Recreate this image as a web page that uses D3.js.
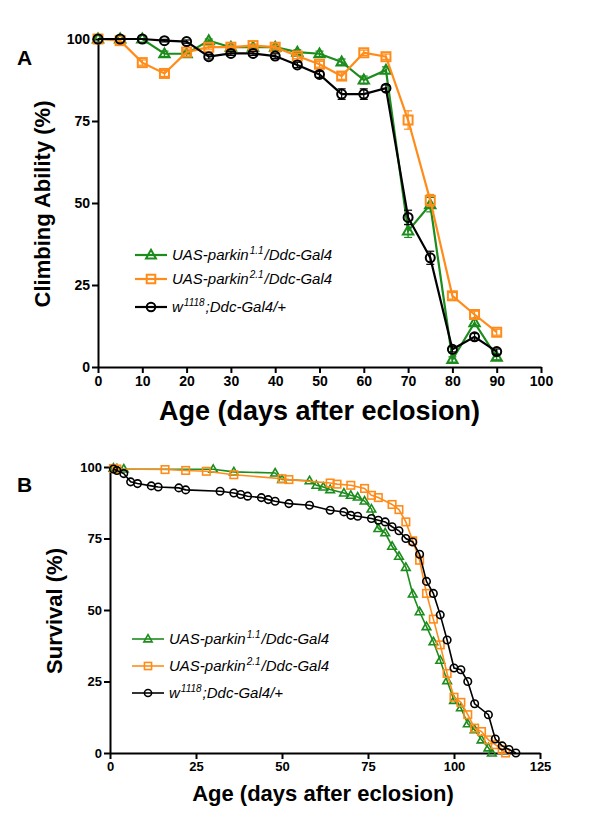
<!DOCTYPE html>
<html>
<head>
<meta charset="utf-8">
<script src="https://cdn.jsdelivr.net/npm/d3@7"></script>
<style>
  body { margin: 0; background: #fff; }
  text { font-family: "Liberation Sans", Arial, sans-serif; }
</style>
</head>
<body>
<svg id="chart" width="600" height="835"></svg>
<script>
// ---- Panel A: climbing ability (mean, SEM) every 5 days
var climbDays = [0, 5, 10, 15, 20, 25, 30, 35, 40, 45, 50, 55, 60, 65, 70, 75, 80, 85, 90];
var climbGreen = [100, 100, 100, 95.5, 95.5, 99.5, 97.5, 97.5, 97.5, 96, 95.5, 93, 87.5, 90.5, 41.5, 49.5, 2.3, 13.5, 3];
var climbOrange = [100, 99.5, 92.8, 89.5, 96, 97.5, 97.5, 98, 97.5, 94.8, 92.3, 88.7, 95.8, 94.6, 75.3, 50.8, 21.7, 16, 10.6];
var climbBlack = [100, 100, 100, 99.5, 99.2, 94.6, 95.6, 95.6, 94.8, 92.1, 89.2, 83.2, 83.2, 85, 45.6, 33.3, 5.4, 9.2, 4.7];
var semGreen = [0, 0, 0, 0.8, 0.8, 0.5, 0.6, 0.6, 0.6, 0.7, 0.8, 0.9, 1.2, 1.0, 2.0, 2.2, 0.8, 1.0, 0.8];
var semOrange = [0, 0.5, 0.8, 0.9, 0.7, 0.6, 0.6, 0.5, 0.6, 0.8, 0.9, 1.0, 0.8, 0.8, 2.8, 1.8, 1.0, 1.0, 0.9];
var semBlack = [0, 0, 0, 0.4, 0.5, 0.7, 0.6, 0.6, 0.7, 0.8, 0.9, 1.6, 1.6, 1.0, 2.2, 2.0, 0.8, 1.0, 0.8];

// ---- Panel B: survival curves
var survDaysGreen = [1, 2, 4, 30, 36, 48, 50, 58, 60, 62, 64, 68, 70, 72, 74, 76, 78, 80, 82, 84, 86, 88, 90, 92, 94, 96, 98, 100, 102, 104, 106, 108, 110, 111];
var survGreen = [99.6, 99.4, 99.3, 99.2, 98.3, 97.9, 95.6, 95.2, 93.6, 93.0, 92.1, 90.9, 90.1, 89.5, 88.1, 85.3, 78.5, 77.0, 72.3, 68.8, 64.9, 55.6, 49.4, 44.2, 38.9, 32.4, 25.3, 18.4, 15.8, 10.2, 8.1, 4.6, 1.8, 0];
var survDaysOrange = [1, 2, 16, 22, 28, 36, 50, 52, 64, 66, 70, 74, 76, 78, 82, 84, 86, 88, 90, 92, 94, 96, 98, 100, 102, 104, 106, 108, 110, 112, 114, 115];
var survOrange = [99.5, 99.3, 99.1, 98.8, 98.5, 97.3, 95.9, 95.6, 94.4, 94.0, 93.6, 92.5, 90.1, 89.3, 86.9, 85.1, 80.8, 74.2, 67.4, 55.8, 46.8, 37.8, 27.8, 19.5, 17.7, 13.4, 8.7, 7.5, 4.6, 2.9, 1.2, 0];
var survDaysBlack = [1, 2, 4, 6, 8, 12, 14, 20, 22, 32, 36, 38, 40, 44, 46, 48, 52, 58, 64, 68, 70, 72, 76, 78, 80, 82, 84, 86, 88, 90, 92, 94, 96, 98, 100, 102, 104, 106, 110, 112, 114, 116, 118];
var survBlack = [99.3, 98.8, 97.7, 94.8, 94.2, 93.4, 93.0, 92.7, 92.0, 91.5, 90.9, 90.4, 89.8, 89.3, 88.6, 88.0, 87.2, 86.6, 84.9, 84.3, 83.1, 82.8, 82.0, 81.4, 80.8, 79.1, 77.7, 75.0, 73.8, 69.5, 60.0, 55.8, 48.3, 39.5, 29.7, 29.1, 25.0, 17.2, 13.4, 4.9, 2.5, 1.2, 0];

var yTicks = [0, 25, 50, 75, 100];
var climbXTicks = [0, 10, 20, 30, 40, 50, 60, 70, 80, 90, 100];
var survXTicks = [0, 25, 50, 75, 100, 125];

var genotypes = [
  { base: "UAS-parkin", sup: "1.1", tail: "/Ddc-Gal4", color: "#1c8c1c", shape: "triangle" },
  { base: "UAS-parkin", sup: "2.1", tail: "/Ddc-Gal4", color: "#ff8c1a", shape: "square" },
  { base: "w", sup: "1118", tail: ";Ddc-Gal4/+", color: "#000000", shape: "circle" }
];

var svg = d3.select("#chart");

// draws one open marker at (cx, cy)
function marker(g, shape, cx, cy, s, color, sw) {
  if (shape === "circle") {
    g.append("circle").attr("cx", cx).attr("cy", cy).attr("r", s / 2)
      .attr("fill", "none").attr("stroke", color).attr("stroke-width", sw);
  } else if (shape === "square") {
    g.append("rect").attr("x", cx - s / 2).attr("y", cy - s / 2)
      .attr("width", s).attr("height", s)
      .attr("fill", "none").attr("stroke", color).attr("stroke-width", sw);
  } else {
    var h = s * Math.sqrt(3) / 2;
    g.append("path")
      .attr("d", "M" + cx + "," + (cy - h * 0.6) + "L" + (cx + s / 2) + "," + (cy + h * 0.4) +
        "L" + (cx - s / 2) + "," + (cy + h * 0.4) + "Z")
      .attr("fill", "none").attr("stroke", color).attr("stroke-width", sw);
  }
}

function drawPanel(p) {
  var g = svg.append("g");

  var x = d3.scaleLinear().domain(p.xDomain).range(p.xRange);
  var y = d3.scaleLinear().domain([0, 100]).range(p.yRange);

  // axes
  var xAxis = d3.axisBottom(x).tickValues(p.xTicks).tickSize(6).tickSizeOuter(0).tickPadding(3);
  var yAxis = d3.axisLeft(y).tickValues(yTicks).tickSize(6).tickSizeOuter(0).tickPadding(2);

  var gx = g.append("g").attr("transform", "translate(0," + p.yRange[0] + ")").call(xAxis);
  var gy = g.append("g").attr("transform", "translate(" + p.xRange[0] + ",0)").call(yAxis);

  [gx, gy].forEach(function(a) {
    a.select(".domain").attr("stroke", "#000").attr("stroke-width", 2);
    a.selectAll(".tick line").attr("stroke", "#000").attr("stroke-width", 2);
    a.selectAll(".tick text")
      .attr("fill", "#000")
      .attr("font-size", p.tickFont)
      .attr("font-weight", "bold")
      .style("font-family", "'Liberation Sans', Arial, sans-serif");
  });

  // series
  p.series.forEach(function(s, i) {
    var gt = genotypes[i];
    var pts = s.xs.map(function(d, j) { return { x: d, y: s.ys[j], e: s.err ? s.err[j] : 0 }; });

    var line = d3.line().x(function(d) { return x(d.x); }).y(function(d) { return y(d.y); });
    g.append("path").datum(pts).attr("d", line)
      .attr("fill", "none").attr("stroke", gt.color).attr("stroke-width", p.lineWidth);

    if (s.err) {
      pts.forEach(function(d) {
        if (d.e <= 0) return;
        var cx = x(d.x);
        g.append("line").attr("x1", cx).attr("x2", cx)
          .attr("y1", y(d.y - d.e)).attr("y2", y(d.y + d.e))
          .attr("stroke", gt.color).attr("stroke-width", 1.2);
        [d.y - d.e, d.y + d.e].forEach(function(v) {
          g.append("line").attr("x1", cx - 4).attr("x2", cx + 4)
            .attr("y1", y(v)).attr("y2", y(v))
            .attr("stroke", gt.color).attr("stroke-width", 1.2);
        });
      });
    }

    pts.forEach(function(d) {
      marker(g, gt.shape, x(d.x), y(d.y), gt.shape === "triangle" ? p.markSize * 1.15 : p.markSize,
        gt.color, p.markStroke);
    });
  });

  // legend
  genotypes.forEach(function(gt, i) {
    var ly = p.legendRows[i];
    g.append("line").attr("x1", p.legendX).attr("x2", p.legendX + 32)
      .attr("y1", ly).attr("y2", ly)
      .attr("stroke", gt.color).attr("stroke-width", p.lineWidth);
    marker(g, gt.shape, p.legendX + 16, ly, gt.shape === "triangle" ? p.markSize * 1.1 : p.markSize * 0.95,
      gt.color, p.markStroke);
    var t = g.append("text").attr("x", p.legendX + 37).attr("y", ly + 5)
      .attr("font-size", 15).attr("font-style", "italic").attr("fill", "#000");
    t.append("tspan").text(gt.base);
    t.append("tspan").attr("font-size", 10).attr("dy", -6).attr("dx", 1).text(gt.sup);
    t.append("tspan").attr("dy", 6).attr("dx", 1).text(gt.tail);
  });

  // titles
  g.append("text")
    .attr("x", (p.xRange[0] + p.xRange[1]) / 2 + p.xTitleShift)
    .attr("y", p.xTitleY)
    .attr("text-anchor", "middle")
    .attr("font-size", p.xTitleFont).attr("font-weight", "bold")
    .text("Age (days after eclosion)");

  g.append("text")
    .attr("transform", "translate(" + p.yTitleX + "," + p.yTitleY + ") rotate(-90)")
    .attr("text-anchor", "middle")
    .attr("font-size", 22).attr("font-weight", "bold")
    .text(p.yTitle);

  g.append("text").attr("x", 17).attr("y", p.letterY)
    .attr("font-size", 21).attr("font-weight", "bold")
    .text(p.letter);
}

drawPanel({
  letter: "A", letterY: 65,
  xDomain: [0, 100], xRange: [98, 541], yRange: [367, 39], xTicks: climbXTicks,
  tickFont: 14, lineWidth: 2.2, markSize: 9, markStroke: 2,
  series: [
    { xs: climbDays, ys: climbGreen, err: semGreen },
    { xs: climbDays, ys: climbOrange, err: semOrange },
    { xs: climbDays, ys: climbBlack, err: semBlack }
  ],
  legendX: 135, legendRows: [255, 279, 307],
  xTitleY: 420, xTitleShift: 0, xTitleFont: 27,
  yTitle: "Climbing Ability (%)", yTitleX: 50, yTitleY: 204
});

drawPanel({
  letter: "B", letterY: 492,
  xDomain: [0, 125], xRange: [110, 540], yRange: [753, 467], xTicks: survXTicks,
  tickFont: 13, lineWidth: 1.6, markSize: 7.5, markStroke: 1.6,
  series: [
    { xs: survDaysGreen, ys: survGreen },
    { xs: survDaysOrange, ys: survOrange },
    { xs: survDaysBlack, ys: survBlack }
  ],
  legendX: 132, legendRows: [639, 666, 693],
  xTitleY: 801, xTitleShift: -2, xTitleFont: 22,
  yTitle: "Survival (%)", yTitleX: 62, yTitleY: 611
});
</script>
</body>
</html>
